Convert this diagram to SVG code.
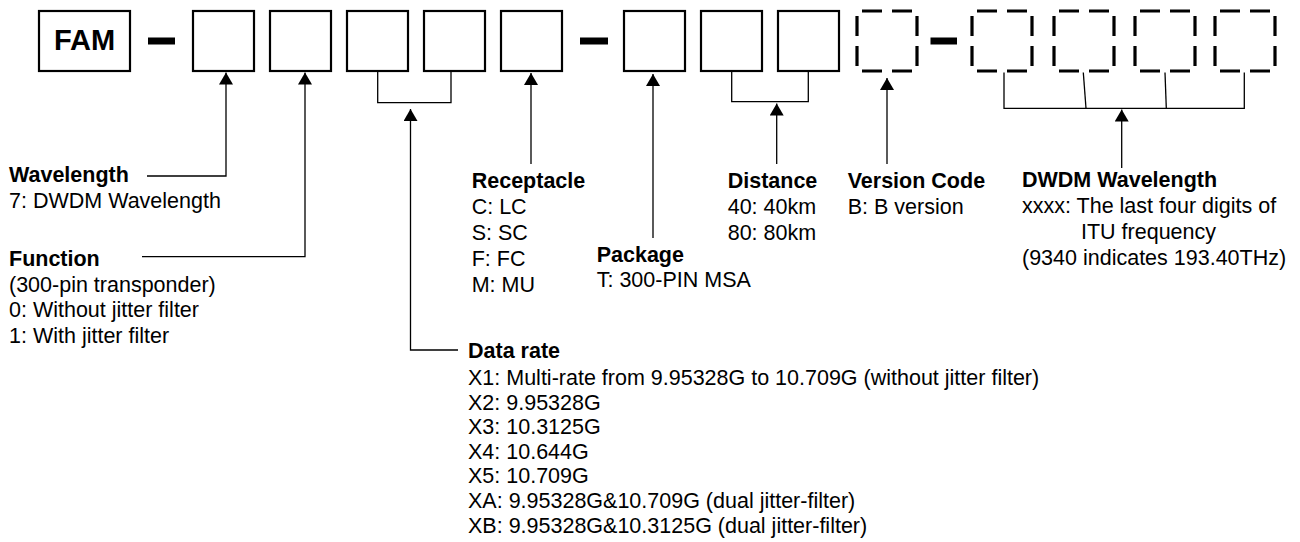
<svg xmlns="http://www.w3.org/2000/svg" width="1300" height="542" viewBox="0 0 1300 542">
<style>
.box{fill:#fff;stroke:#000;stroke-width:2.2}
.dbox{fill:none;stroke:#000;stroke-width:3.2;stroke-dasharray:20 10;stroke-dashoffset:25}
.bar{fill:#000}
.ln{fill:none;stroke:#000;stroke-width:1.3}
.arr{fill:none;stroke:#000;stroke-width:1.3;marker-end:url(#ah)}
text{font-family:"Liberation Sans",Arial,sans-serif;font-size:21.5px;fill:#000}
.h{font-weight:bold}
.fam{font-weight:bold;font-size:29px}
</style>
<defs>
<marker id="ah" viewBox="0 0 12 14" refX="12" refY="7" markerWidth="12" markerHeight="14" markerUnits="userSpaceOnUse" orient="auto">
<path d="M0,0 L12,7 L0,14 z" fill="#000"/>
</marker>
</defs>
<g id="code">
<g id="fam"><rect class="box" x="39" y="11" width="91" height="60"/><text class="fam" x="84.5" y="50" text-anchor="middle">FAM</text></g>
<rect class="bar" x="148" y="37.5" width="27" height="7"/>
<g id="b1"><rect class="box" x="193" y="11" width="61" height="60"/></g>
<g id="b2"><rect class="box" x="270" y="11" width="61" height="60"/></g>
<g id="b3"><rect class="box" x="347" y="11" width="61" height="60"/></g>
<g id="b4"><rect class="box" x="424" y="11" width="61" height="60"/></g>
<g id="b5"><rect class="box" x="501" y="11" width="61" height="60"/></g>
<rect class="bar" x="580" y="37.5" width="28" height="7"/>
<g id="b6"><rect class="box" x="624" y="11" width="61" height="60"/></g>
<g id="b7"><rect class="box" x="701" y="11" width="61" height="60"/></g>
<g id="b8"><rect class="box" x="778" y="11" width="61" height="60"/></g>
<g id="b9"><rect class="dbox" x="857" y="11" width="60" height="60"/></g>
<rect class="bar" x="930.5" y="37.5" width="26.5" height="7"/>
<g id="b10"><rect class="dbox" x="972" y="11" width="60" height="60"/></g>
<g id="b11"><rect class="dbox" x="1054" y="11" width="60" height="60"/></g>
<g id="b12"><rect class="dbox" x="1135" y="11" width="60" height="60"/></g>
<g id="b13"><rect class="dbox" x="1215" y="11" width="60" height="60"/></g>
</g>
<g id="connectors">
<polyline class="arr" points="147,176 226,176 226,72.5"/>
<polyline class="arr" points="142,256.7 305,256.7 305,72.5"/>
<polyline class="ln" points="377.7,72 377.7,102.7 451,102.7 451,72"/>
<polyline class="arr" points="458,350 410.5,350 410.5,109"/>
<line class="arr" x1="531" y1="164" x2="531" y2="73"/>
<line class="arr" x1="653" y1="238" x2="653" y2="74"/>
<polyline class="ln" points="731.7,72 731.7,101.7 808.3,101.7 808.3,72"/>
<line class="arr" x1="776.7" y1="164" x2="776.7" y2="103.5"/>
<line class="arr" x1="887" y1="164" x2="887" y2="78"/>
<polyline class="ln" points="1004,72.5 1004,108.3 1244.3,108.3 1244.3,72.5"/>
<line class="ln" x1="1083.3" y1="72.5" x2="1086" y2="108.3"/>
<line class="ln" x1="1165" y1="72.5" x2="1166.3" y2="108.3"/>
<line class="arr" x1="1121.7" y1="168" x2="1121.7" y2="109.5"/>
</g>
<g id="wavelength"><text class="h" x="9" y="182">Wavelength</text><text x="9" y="208">7: DWDM Wavelength</text></g>
<g id="function"><text class="h" x="9" y="266">Function</text><text x="9" y="291.5">(300-pin transponder)</text><text x="9" y="317">0: Without jitter filter</text><text x="9" y="342.5">1: With jitter filter</text></g>
<g id="receptacle"><text class="h" x="471.7" y="188.3">Receptacle</text><text x="471.7" y="214.3">C: LC</text><text x="471.7" y="240">S: SC</text><text x="471.7" y="265.7">F: FC</text><text x="471.7" y="291.5">M: MU</text></g>
<g id="package"><text class="h" x="596.7" y="261.7">Package</text><text x="596.7" y="287.3">T: 300-PIN MSA</text></g>
<g id="distance"><text class="h" x="727.7" y="188.3">Distance</text><text x="727.7" y="214.3">40: 40km</text><text x="727.7" y="240">80: 80km</text></g>
<g id="version"><text class="h" x="847.7" y="188.3">Version Code</text><text x="847.7" y="214.3">B: B version</text></g>
<g id="dwdm"><text class="h" x="1022" y="186.7">DWDM Wavelength</text><text x="1022" y="213.3">xxxx: The last four digits of</text><text x="1081" y="239">ITU frequency</text><text x="1022" y="265">(9340 indicates 193.40THz)</text></g>
<g id="datarate"><text class="h" x="468" y="358.3">Data rate</text><text x="468" y="385">X1: Multi-rate from 9.95328G to 10.709G (without jitter filter)</text><text x="468" y="409.6">X2: 9.95328G</text><text x="468" y="434.2">X3: 10.3125G</text><text x="468" y="458.8">X4: 10.644G</text><text x="468" y="483.4">X5: 10.709G</text><text x="468" y="508">XA: 9.95328G&amp;10.709G (dual jitter-filter)</text><text x="468" y="532.6">XB: 9.95328G&amp;10.3125G (dual jitter-filter)</text></g>
</svg>
